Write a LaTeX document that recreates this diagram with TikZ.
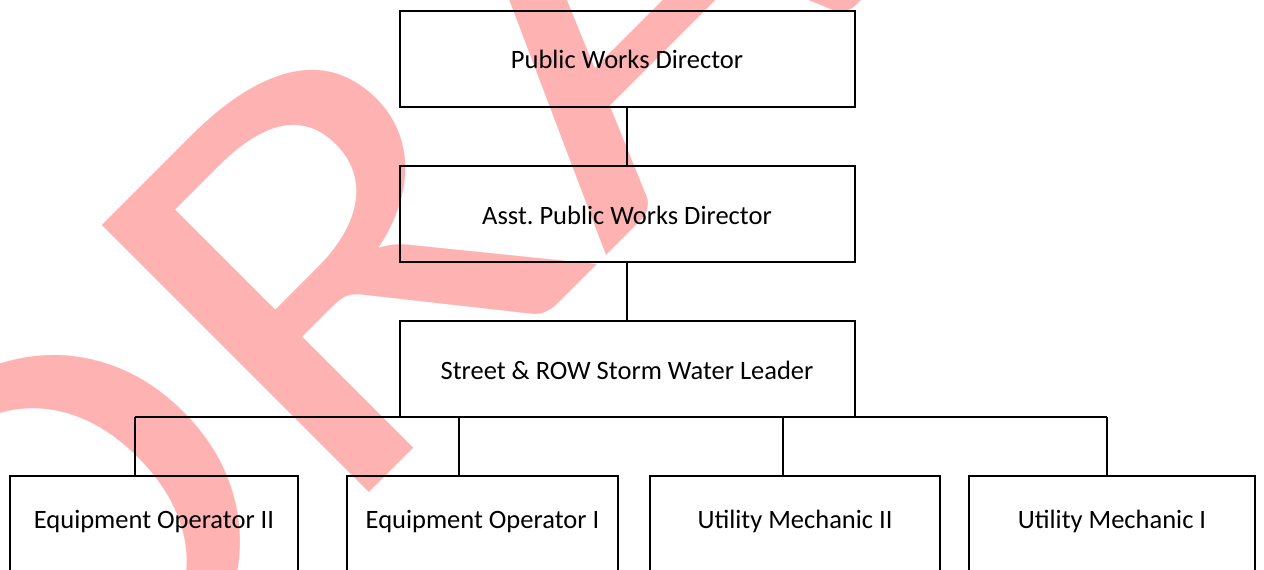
\documentclass[tikz,border=0pt]{standalone}
\usepackage{fontspec}
\setmainfont{Carlito}
\definecolor{draftpink}{RGB}{255,178,178}
\begin{document}
\begin{tikzpicture}[x=0.5pt,y=-0.5pt,
  posbox/.style={draw=black,line width=1pt,inner sep=0pt,minimum height=48pt,
    font=\fontsize{13.25pt}{16pt}\selectfont,text height=10.6pt,text depth=0.6pt},
  lowbox/.style={posbox,anchor=north,minimum height=52pt,text depth=10.6pt},
  link/.style={line width=1pt,color=black}]
\useasboundingbox (0,0) rectangle (1264,569);
\clip (0,0) rectangle (1264,569);
\node [text=draftpink,rotate=45,anchor=base west,inner sep=0pt,outer sep=0pt,
  font=\fontsize{294.5pt}{300pt}\selectfont] (draft) at (26,836) {\scalebox{1.2}[1]{DRAFT}};
\node [posbox,minimum width=227.5pt] (pwd) at (627,58.5) {Public Works Director};
\node [posbox,minimum width=227.5pt] (apwd) at (627,214) {Asst.\ Public Works Director};
\node [posbox,minimum width=227.5pt] (lead) at (627,369) {Street \& ROW Storm Water Leader};
\node [lowbox,minimum width=144pt] (eo2) at (154,475) {Equipment Operator II};
\node [lowbox,minimum width=135.5pt] (eo1) at (482.5,475) {Equipment Operator I};
\node [lowbox,minimum width=145pt] (um2) at (795,475) {Utility Mechanic II};
\node [lowbox,minimum width=143pt] (um1) at (1112,475) {Utility Mechanic I};
\coordinate (d1) at (135,417); \coordinate (d2) at (459,417);
\coordinate (d3) at (783,417); \coordinate (d4) at (1107,417);
\draw [link] (pwd.south)--(apwd.north);
\draw [link] (apwd.south)--(lead.north);
\draw [link] (d1)--(d4);
\foreach \d/\b in {d1/eo2,d2/eo1,d3/um2,d4/um1}
  \draw [link] (\d)--(\d |- \b.north);
\end{tikzpicture}
\end{document}
